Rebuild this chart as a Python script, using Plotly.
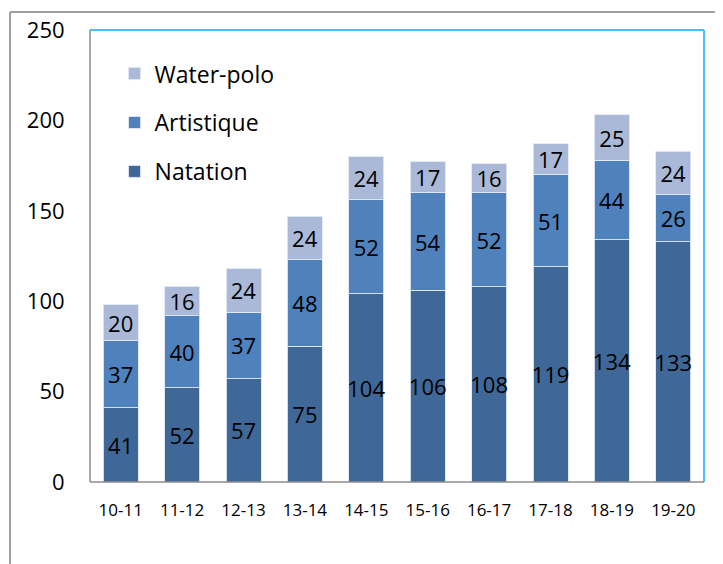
import plotly.graph_objects as go

categories = ["10-11", "11-12", "12-13", "13-14", "14-15", "15-16", "16-17", "17-18", "18-19", "19-20"]
natation = [41, 52, 57, 75, 104, 106, 108, 119, 134, 133]
artistique = [37, 40, 37, 48, 52, 54, 52, 51, 44, 26]
water_polo = [20, 16, 24, 24, 24, 17, 16, 17, 25, 24]
y_ticks = [0, 50, 100, 150, 200, 250]

FONT = "Open Sans, sans-serif"
edge = dict(color="rgba(225,232,245,0.9)", width=1)

fig = go.Figure()
for rank, (name, vals, col) in enumerate([("Natation", natation, "#3F6899"),
                                          ("Artistique", artistique, "#4F81BD"),
                                          ("Water-polo", water_polo, "#A9B9D7")]):
    fig.add_trace(go.Bar(
        x=categories, y=vals, name=name, legendgroup=name, legendrank=1000 - rank,
        marker=dict(color=col, line=edge),
        text=[str(v) for v in vals], textposition="inside",
        insidetextanchor="middle", textangle=0,
        textfont=dict(family=FONT, size=22, color="black"),
        constraintext="none",
    ))

# page body has an 8px default margin, so margins are offset to compensate
fig.update_layout(
    barmode="stack",
    bargap=0.43,
    width=723, height=564,
    margin=dict(l=82, r=27, t=22, b=90),
    paper_bgcolor="white", plot_bgcolor="white",
    font=dict(family=FONT, color="black"),
    uniformtext=dict(minsize=8, mode="show"),
    legend=dict(x=0.04, y=0.951, xanchor="left", yanchor="top",
                traceorder="grouped", font=dict(family=FONT, size=23),
                tracegroupgap=16, bgcolor="rgba(0,0,0,0)"),
    xaxis=dict(type="category", showgrid=False, zeroline=False, showline=False,
               automargin=False,
               ticks="outside", ticklen=13, tickcolor="rgba(0,0,0,0)",
               tickfont=dict(family=FONT, size=17)),
    yaxis=dict(range=[0, 250], tickvals=y_ticks, showgrid=False, zeroline=False,
               automargin=False,
               showline=False, ticks="outside", ticklen=20, tickcolor="rgba(0,0,0,0)",
               tickfont=dict(family=FONT, size=22)),
    shapes=[
        dict(type="line", xref="paper", yref="paper", x0=0, x1=1, y0=1, y1=1,
             line=dict(color="#45BFF5", width=2)),
        dict(type="line", xref="paper", yref="paper", x0=1, x1=1, y0=0, y1=1,
             line=dict(color="#45BFF5", width=2)),
        dict(type="line", xref="paper", yref="paper", x0=0, x1=0, y0=0, y1=1,
             line=dict(color="#8C8C8C", width=1.5)),
        dict(type="line", xref="paper", yref="paper", x0=0, x1=1, y0=0, y1=0,
             line=dict(color="#8C8C8C", width=1.5)),
        dict(type="line", xref="paper", yref="paper", x0=-0.1303, x1=1.1, y0=1.0398, y1=1.0398,
             line=dict(color="#A0A0A0", width=2)),
        dict(type="line", xref="paper", yref="paper", x0=-0.1303, x1=-0.1303, y0=-0.2, y1=1.0398,
             line=dict(color="#A0A0A0", width=2)),
    ],
)

fig.write_html("out.html")
